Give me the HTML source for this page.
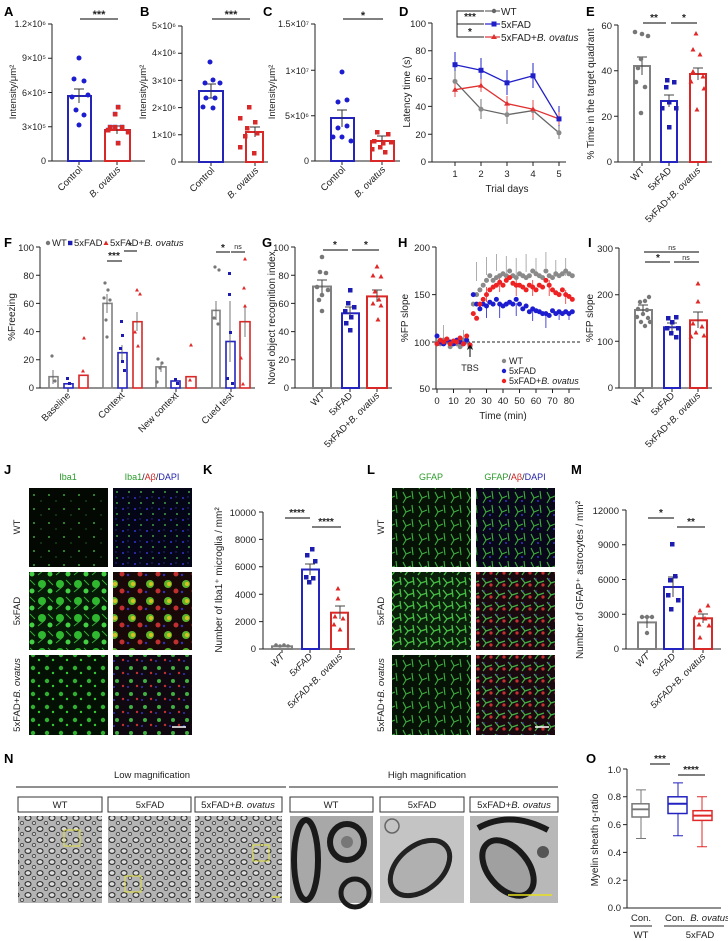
<!DOCTYPE html>
<html><head><meta charset="utf-8"><style>html,body{margin:0;padding:0;background:#fff}svg{display:block}</style></head><body>
<svg width="728" height="941" viewBox="0 0 728 941" font-family="Liberation Sans, Arial, sans-serif" font-size="9.5" fill="#222">
<defs>
<marker id="mG" markerWidth="6" markerHeight="6" refX="3" refY="3" markerUnits="userSpaceOnUse"><circle cx="3" cy="3" r="2.5" fill="#8a8a8a"/></marker>
<marker id="mB" markerWidth="6" markerHeight="6" refX="3" refY="3" markerUnits="userSpaceOnUse"><circle cx="3" cy="3" r="2.5" fill="#1c1cd0"/></marker>
<marker id="mR" markerWidth="6" markerHeight="6" refX="3" refY="3" markerUnits="userSpaceOnUse"><circle cx="3" cy="3" r="2.5" fill="#ee2222"/></marker>
<marker id="dG" markerWidth="6" markerHeight="6" refX="3" refY="3" markerUnits="userSpaceOnUse"><circle cx="3" cy="3" r="2" fill="#666"/></marker>
<marker id="dB" markerWidth="6" markerHeight="6" refX="3" refY="3" markerUnits="userSpaceOnUse"><rect x="0.8" y="0.8" width="4.4" height="4.4" fill="#1c1cb0"/></marker>
<marker id="dR" markerWidth="6" markerHeight="6" refX="3" refY="3" markerUnits="userSpaceOnUse"><path d="M3 0.5 L5.5 5 L0.5 5Z" fill="#e02828"/></marker>
<pattern id="pw1" width="15" height="14" patternUnits="userSpaceOnUse"><rect width="15" height="14" fill="#030803"/><circle cx="4" cy="5" r="0.9" fill="#5c5"/><circle cx="11" cy="11" r="0.6" fill="#393"/></pattern>
<pattern id="pw2" width="12" height="11" patternUnits="userSpaceOnUse"><rect width="12" height="11" fill="#050518"/><circle cx="3" cy="3" r="1" fill="#3434c8"/><circle cx="9" cy="8" r="0.9" fill="#5c5"/><circle cx="8" cy="2" r="0.7" fill="#2a2a9a"/></pattern>
<pattern id="p51" width="18" height="17" patternUnits="userSpaceOnUse"><rect width="18" height="17" fill="#061806"/><circle cx="6" cy="6" r="4" fill="#2fb82f"/><circle cx="14" cy="13" r="2.5" fill="#44d044"/><path d="M2 14 L8 9 M12 2 L17 7" stroke="#3a3" stroke-width="1"/></pattern>
<pattern id="p52" width="18" height="17" patternUnits="userSpaceOnUse"><rect width="18" height="17" fill="#180808"/><circle cx="6" cy="6" r="4" fill="#5ab52a"/><circle cx="7" cy="6" r="2" fill="#d8c020"/><circle cx="14" cy="13" r="2.5" fill="#c03030"/><circle cx="2" cy="14" r="1.2" fill="#3030c0"/></pattern>
<pattern id="pb1" width="14" height="13" patternUnits="userSpaceOnUse"><rect width="14" height="13" fill="#041004"/><circle cx="5" cy="5" r="2.2" fill="#30b030"/><circle cx="11" cy="10" r="1.2" fill="#3c3"/></pattern>
<pattern id="pb2" width="14" height="13" patternUnits="userSpaceOnUse"><rect width="14" height="13" fill="#100810"/><circle cx="5" cy="5" r="2" fill="#40b040"/><circle cx="11" cy="10" r="1.2" fill="#c03030"/><circle cx="2" cy="11" r="1" fill="#3333bb"/></pattern>
<pattern id="pg1" width="16" height="14" patternUnits="userSpaceOnUse"><rect width="16" height="14" fill="#071207"/><path d="M3 2 L6 8 L3 13 M6 8 L11 6 M12 1 L13 9" stroke="#3cb03c" stroke-width="1.1" fill="none"/></pattern>
<pattern id="pg2" width="16" height="14" patternUnits="userSpaceOnUse"><rect width="16" height="14" fill="#08081a"/><path d="M3 2 L6 8 L3 13 M6 8 L11 6 M12 1 L13 9" stroke="#3cb03c" stroke-width="1.1" fill="none"/><circle cx="10" cy="11" r="1" fill="#3535c0"/></pattern>
<pattern id="pg3" width="13" height="12" patternUnits="userSpaceOnUse"><rect width="13" height="12" fill="#0b200b"/><path d="M1 2 L5 7 L2 11 M5 7 L11 5 M10 1 L11 9" stroke="#45c045" stroke-width="1.3" fill="none"/></pattern>
<pattern id="pg4" width="13" height="12" patternUnits="userSpaceOnUse"><rect width="13" height="12" fill="#1a0a10"/><path d="M1 2 L5 7 L2 11 M5 7 L11 5" stroke="#45b045" stroke-width="1.2" fill="none"/><circle cx="10" cy="9" r="1.6" fill="#c83030"/><circle cx="3" cy="3" r="0.8" fill="#4040d0"/></pattern>
<pattern id="pem" width="12" height="11" patternUnits="userSpaceOnUse"><rect width="12" height="11" fill="#b4b4b4"/><ellipse cx="4" cy="4" rx="3" ry="2.4" fill="#ddd" stroke="#222" stroke-width="1"/><ellipse cx="10" cy="9" rx="1.8" ry="1.5" fill="#ccc" stroke="#333" stroke-width="0.8"/></pattern>
</defs>
<rect width="728" height="941" fill="#fff"/>

<g font-weight="bold" font-size="13" fill="#000">
<text x="4" y="16">A</text><text x="140" y="16">B</text><text x="263" y="16">C</text><text x="399" y="16">D</text><text x="586" y="16">E</text>
<text x="4" y="247">F</text><text x="262" y="247">G</text><text x="398" y="247">H</text><text x="588" y="247">I</text>
<text x="4" y="474">J</text><text x="203" y="474">K</text><text x="367" y="474">L</text><text x="571" y="474">M</text>
<text x="4" y="763">N</text><text x="586" y="763">O</text>
</g>

<!-- Panel A -->
<g stroke="#222" stroke-width="1" fill="none">
<path d="M52 24 V161 H145 M48 24 H52 M48 58.25 H52 M48 92.5 H52 M48 126.75 H52 M48 161 H52 M79 161 V165 M117 161 V165"/>
</g>
<g text-anchor="end" font-size="9"><text x="46" y="27">1.2×10⁶</text><text x="46" y="61">9×10⁵</text><text x="46" y="96">6×10⁵</text><text x="46" y="130">3×10⁵</text><text x="46" y="164">0</text></g>
<text transform="rotate(-90 16 92)" x="16" y="92" text-anchor="middle" font-size="9.5">Intensity/μm²</text>
<rect x="68" y="96" width="23" height="65" fill="none" stroke="#2424b8" stroke-width="2"/>
<rect x="105" y="130" width="25" height="31" fill="none" stroke="#d82828" stroke-width="2"/>
<path d="M79 89 V103 M74 89 H84 M117 126 V134 M112 126 H122" stroke="#333"/>
<path d="M79 58 L74 79 L84 81 L72 97 L88 95 L76 110 L84 115 L79 125" stroke="none" fill="none" marker-start="url(#mB)" marker-mid="url(#mB)" marker-end="url(#mB)"/>
<path d="M118 107 L115 114 L110 127 L122 127 L108 130 L128 132 L118 143 L115 127" stroke="none" fill="none" marker-start="url(#dB)" marker-mid="url(#dB)" marker-end="url(#dB)" style="--c:red"/>
<g fill="#d82828"><rect x="116" y="105" width="4.5" height="4.5"/><rect x="113" y="112" width="4.5" height="4.5"/><rect x="108" y="125" width="4.5" height="4.5"/><rect x="120" y="125" width="4.5" height="4.5"/><rect x="106" y="128" width="4.5" height="4.5"/><rect x="126" y="130" width="4.5" height="4.5"/><rect x="116" y="141" width="4.5" height="4.5"/><rect x="113" y="125" width="4.5" height="4.5"/></g>
<path d="M80 19 H118" stroke="#000"/><text x="99" y="18" text-anchor="middle" font-size="11" font-weight="bold">***</text>
<text transform="rotate(-45 83 170)" x="83" y="170" text-anchor="end">Control</text>
<text transform="rotate(-45 121 170)" x="121" y="170" text-anchor="end" font-style="italic">B. ovatus</text>

<!-- Panel B -->
<g stroke="#222" fill="none"><path d="M182 26 V162 H268 M178 26 H182 M178 53.2 H182 M178 80.4 H182 M178 107.6 H182 M178 134.8 H182 M178 162 H182 M211 162 V166 M255 162 V166"/></g>
<g text-anchor="end" font-size="9"><text x="176" y="29">5×10⁶</text><text x="176" y="56">4×10⁶</text><text x="176" y="84">3×10⁶</text><text x="176" y="111">2×10⁶</text><text x="176" y="138">1×10⁶</text><text x="176" y="165">0</text></g>
<text transform="rotate(-90 146 92)" x="146" y="92" text-anchor="middle">Intensity/μm²</text>
<rect x="199" y="91" width="24" height="71" fill="none" stroke="#2424b8" stroke-width="2"/>
<rect x="246" y="132" width="17" height="30" fill="none" stroke="#d82828" stroke-width="2"/>
<path d="M211 84 V98 M206 84 H216 M206 98 H216 M255 127 V137 M250 127 H260" stroke="#333"/>
<path d="M210 62 L213 80 L205 83 L220 83 L206 98 L215 98 L203 107 L213 108" stroke="none" fill="none" marker-start="url(#mB)" marker-mid="url(#mB)" marker-end="url(#mB)"/>
<g fill="#d82828"><rect x="247" y="105" width="4.5" height="4.5"/><rect x="238" y="116" width="4.5" height="4.5"/><rect x="253" y="120" width="4.5" height="4.5"/><rect x="245" y="126" width="4.5" height="4.5"/><rect x="255" y="131" width="4.5" height="4.5"/><rect x="243" y="134" width="4.5" height="4.5"/><rect x="238" y="145" width="4.5" height="4.5"/><rect x="252" y="151" width="4.5" height="4.5"/></g>
<path d="M212 19 H250" stroke="#000"/><text x="231" y="18" text-anchor="middle" font-size="11" font-weight="bold">***</text>
<text transform="rotate(-45 215 171)" x="215" y="171" text-anchor="end">Control</text>
<text transform="rotate(-45 259 171)" x="259" y="171" text-anchor="end" font-style="italic">B. ovatus</text>

<!-- Panel C -->
<g stroke="#222" fill="none"><path d="M315 24 V161 H400 M311 24 H315 M311 70.3 H315 M311 115.7 H315 M311 161 H315 M342 161 V165 M382 161 V165"/></g>
<g text-anchor="end" font-size="9"><text x="309" y="27">1.5×10⁷</text><text x="309" y="74">1×10⁷</text><text x="309" y="119">5×10⁶</text><text x="309" y="164">0</text></g>
<text transform="rotate(-90 275 92)" x="275" y="92" text-anchor="middle">Intensity/μm²</text>
<rect x="331" y="118" width="23" height="43" fill="none" stroke="#2424b8" stroke-width="2"/>
<rect x="371" y="141" width="23" height="20" fill="none" stroke="#d82828" stroke-width="2"/>
<path d="M342 110 V127 M337 110 H347 M382 136 V146 M377 136 H387" stroke="#333"/>
<path d="M342 72 L338 102 L347 100 L338 128 L347 126 L333 137 L342 137 L351 141" stroke="none" fill="none" marker-start="url(#mB)" marker-mid="url(#mB)" marker-end="url(#mB)"/>
<g fill="#d82828"><rect x="375" y="130" width="4.5" height="4.5"/><rect x="386" y="132" width="4.5" height="4.5"/><rect x="372" y="139" width="4.5" height="4.5"/><rect x="381" y="141" width="4.5" height="4.5"/><rect x="389" y="140" width="4.5" height="4.5"/><rect x="370" y="147" width="4.5" height="4.5"/><rect x="383" y="150" width="4.5" height="4.5"/><rect x="378" y="145" width="4.5" height="4.5"/></g>
<path d="M343 19 H383" stroke="#000"/><text x="363" y="19" text-anchor="middle" font-size="11" font-weight="bold">*</text>
<text transform="rotate(-45 346 170)" x="346" y="170" text-anchor="end">Control</text>
<text transform="rotate(-45 386 170)" x="386" y="170" text-anchor="end" font-style="italic">B. ovatus</text>

<!-- Panel D -->
<g stroke="#222" fill="none"><path d="M432 23 V162 H566 M428 23 H432 M428 50.8 H432 M428 78.6 H432 M428 106.4 H432 M428 134.2 H432 M428 162 H432 M455 162 V166 M481 162 V166 M507 162 V166 M533 162 V166 M559 162 V166"/></g>
<g text-anchor="end"><text x="426" y="27">100</text><text x="426" y="54">80</text><text x="426" y="82">60</text><text x="426" y="110">40</text><text x="426" y="138">20</text><text x="426" y="165">0</text></g>
<g text-anchor="middle"><text x="455" y="177">1</text><text x="481" y="177">2</text><text x="507" y="177">3</text><text x="533" y="177">4</text><text x="559" y="177">5</text><text x="507" y="192" font-size="10">Trial days</text></g>
<text transform="rotate(-90 410 92)" x="410" y="92" text-anchor="middle" font-size="10">Latency time (s)</text>
<g stroke-width="1">
<path d="M455 52 V77 M481 58 V83 M507 70 V95 M533 63 V88 M559 106 V131" stroke="#2424c8"/>
<path d="M455 71 V91 M481 99 V119 M507 104 V124 M533 100 V120 M559 126 V139" stroke="#777"/>
<path d="M455 82 V97 M481 79 V92 M507 96 V111 M533 100 V118 M559 112 V125" stroke="#e05050"/>
</g>
<polyline points="455,81.4 481,109.2 507,114.7 533,110.6 559,132.8" fill="none" stroke="#666" stroke-width="1.3" marker-start="url(#mG)" marker-mid="url(#mG)" marker-end="url(#mG)"/>
<polyline points="455,89.7 481,85.6 507,103.6 533,109.2 559,118.9" fill="none" stroke="#e03030" stroke-width="1.3"/>
<g fill="#e03030"><path d="M455 86.7 l3 5 h-6z M481 82.6 l3 5 h-6z M507 100.6 l3 5 h-6z M533 106.2 l3 5 h-6z"/></g>
<polyline points="455,64.7 481,70.3 507,82.8 533,75.8 559,118.9" fill="none" stroke="#2020c8" stroke-width="1.3"/>
<g fill="#2020c8"><rect x="452.5" y="62.2" width="5" height="5"/><rect x="478.5" y="67.8" width="5" height="5"/><rect x="504.5" y="80.3" width="5" height="5"/><rect x="530.5" y="73.3" width="5" height="5"/><rect x="556.5" y="116.4" width="5" height="5"/></g>
<path d="M484 11 H457 V24 H484 M457 24 V37 H484" stroke="#222" fill="none"/>
<text x="470" y="20" text-anchor="middle" font-weight="bold" font-size="10">***</text>
<text x="470" y="35" text-anchor="middle" font-weight="bold" font-size="10">*</text>
<path d="M485 11 H500" stroke="#666" stroke-width="1.2"/><circle cx="494" cy="11" r="2.2" fill="#666"/>
<path d="M485 24 H500" stroke="#2020c8" stroke-width="1.2"/><rect x="491.5" y="21.5" width="5" height="5" fill="#2020c8"/>
<path d="M485 37 H500" stroke="#e03030" stroke-width="1.2"/><path d="M494 34 l3 5 h-6z" fill="#e03030"/>
<g font-size="10"><text x="501" y="15">WT</text><text x="501" y="28">5xFAD</text><text x="501" y="41">5xFAD+<tspan font-style="italic">B. ovatus</tspan></text></g>

<!-- Panel E -->
<g stroke="#222" fill="none"><path d="M618 25 V162 H712 M614 25 H618 M614 70.7 H618 M614 116.3 H618 M614 162 H618 M642 162 V166 M669 162 V166 M698 162 V166"/></g>
<g text-anchor="end"><text x="612" y="29">60</text><text x="612" y="74">40</text><text x="612" y="120">20</text><text x="612" y="165">0</text></g>
<text transform="rotate(-90 594 94)" x="594" y="94" text-anchor="middle" font-size="10">% Time  in the target quadrant</text>
<rect x="634" y="66" width="16" height="96" fill="none" stroke="#808080" stroke-width="2"/>
<rect x="661" y="101" width="16" height="61" fill="none" stroke="#2424c0" stroke-width="2"/>
<rect x="690" y="74" width="16" height="88" fill="none" stroke="#d82828" stroke-width="2"/>
<path d="M642 57 V75 M637 57 H647 M669 95 V107 M664 95 H674 M698 68 V80 M693 68 H703" stroke="#444"/>
<g fill="#777"><circle cx="635" cy="32" r="2.3"/><circle cx="642" cy="34" r="2.3"/><circle cx="648" cy="36" r="2.3"/><circle cx="641" cy="59" r="2.3"/><circle cx="638" cy="68" r="2.3"/><circle cx="636" cy="82" r="2.3"/><circle cx="645" cy="87" r="2.3"/><circle cx="641" cy="113" r="2.3"/></g>
<g fill="#1c1cb0"><rect x="665" y="78" width="4.5" height="4.5"/><rect x="672" y="80" width="4.5" height="4.5"/><rect x="664" y="85" width="4.5" height="4.5"/><rect x="667" y="100" width="4.5" height="4.5"/><rect x="660" y="106" width="4.5" height="4.5"/><rect x="674" y="106" width="4.5" height="4.5"/><rect x="667" y="125" width="4.5" height="4.5"/></g>
<g fill="#e02828"><path d="M696 31 l2.5 4.5 h-5z M693 47 l2.5 4.5 h-5z M700 52 l2.5 4.5 h-5z M693 69 l2.5 4.5 h-5z M703 74 l2.5 4.5 h-5z M691 79 l2.5 4.5 h-5z M704 86 l2.5 4.5 h-5z M697 107 l2.5 4.5 h-5z"/></g>
<path d="M643 23 H666 M671 23 H697" stroke="#000"/>
<text x="654" y="21" text-anchor="middle" font-weight="bold" font-size="10">**</text><text x="684" y="21" text-anchor="middle" font-weight="bold" font-size="10">*</text>
<text transform="rotate(-45 645 171)" x="645" y="171" text-anchor="end">WT</text>
<text transform="rotate(-45 672 171)" x="672" y="171" text-anchor="end">5xFAD</text>
<text transform="rotate(-45 701 171)" x="701" y="171" text-anchor="end">5xFAD+<tspan font-style="italic">B. ovatus</tspan></text>

<!-- Panel F -->
<g font-size="9.5"><circle cx="48" cy="243" r="2.2" fill="#777"/><text x="52" y="246">WT</text><rect x="68" y="240.8" width="4.4" height="4.4" fill="#1c1cb0"/><text x="74" y="246">5xFAD</text><path d="M106 240.5 l2.5 4.5 h-5z" fill="#e02828"/><text x="110" y="246">5xFAD+<tspan font-style="italic">B. ovatus</tspan></text></g>
<g stroke="#222" fill="none"><path d="M40 247 V388 H255 M36 247 H40 M36 275.2 H40 M36 303.4 H40 M36 331.6 H40 M36 359.8 H40 M36 388 H40 M68 388 V392 M122 388 V392 M176 388 V392 M231 388 V392"/></g>
<g text-anchor="end"><text x="34" y="251">100</text><text x="34" y="279">80</text><text x="34" y="307">60</text><text x="34" y="335">40</text><text x="34" y="363">20</text><text x="34" y="391">0</text></g>
<text transform="rotate(-90 15 317)" x="15" y="317" text-anchor="middle" font-size="10">%Freezing</text>
<g fill="none" stroke-width="1.6">
<g stroke="#808080"><rect x="49" y="376.7" width="9" height="11.3"/><rect x="103" y="303.4" width="9" height="84.6"/><rect x="156" y="366.9" width="10" height="21.1"/><rect x="212" y="310.4" width="8" height="77.6"/></g>
<g stroke="#2424c0"><rect x="64" y="383.8" width="9" height="4.2"/><rect x="118" y="352.7" width="9" height="35.3"/><rect x="171" y="381" width="9" height="7"/><rect x="226" y="341.5" width="9" height="46.5"/></g>
<g stroke="#d82828"><rect x="79" y="375.3" width="9" height="12.7"/><rect x="133" y="321.7" width="9" height="66.3"/><rect x="186" y="376.7" width="10" height="11.3"/><rect x="240" y="321.7" width="10" height="66.3"/></g>
</g>
<path d="M53 370 V384 M107 294 V313 M122 345 V360 M137 312 V331 M161 362 V372 M216 301 V320 M230 301 V362 M245 307 V337" stroke="#555" stroke-width="0.8"/>
<g fill="#777"><circle cx="52" cy="356" r="1.6"/><circle cx="55" cy="381" r="1.6"/><circle cx="105" cy="283" r="1.6"/><circle cx="108" cy="290" r="1.6"/><circle cx="104" cy="298" r="1.6"/><circle cx="110" cy="300" r="1.6"/><circle cx="106" cy="320" r="1.6"/><circle cx="107" cy="337" r="1.6"/><circle cx="158" cy="359" r="1.6"/><circle cx="162" cy="363" r="1.6"/><circle cx="160" cy="368" r="1.6"/><circle cx="157" cy="382" r="1.6"/><circle cx="215" cy="267" r="1.6"/><circle cx="219" cy="270" r="1.6"/><circle cx="214" cy="318" r="1.6"/><circle cx="218" cy="324" r="1.6"/></g>
<g fill="#1c1cb0"><rect x="66" y="377" width="3" height="3"/><rect x="68" y="382" width="3" height="3"/><rect x="120" y="320" width="3" height="3"/><rect x="121" y="334" width="3" height="3"/><rect x="119" y="347" width="3" height="3"/><rect x="121" y="360" width="3" height="3"/><rect x="123" y="369" width="3" height="3"/><rect x="174" y="378" width="3" height="3"/><rect x="176" y="382" width="3" height="3"/><rect x="228" y="272" width="3" height="3"/><rect x="228" y="293" width="3" height="3"/><rect x="229" y="331" width="3" height="3"/><rect x="226" y="377" width="3" height="3"/><rect x="231" y="382" width="3" height="3"/></g>
<g fill="#e02828"><path d="M84 336 l2 3.5 h-4z M83 369 l2 3.5 h-4z M137 288 l2 3.5 h-4z M140 292 l2 3.5 h-4z M135 330 l2 3.5 h-4z M138 344 l2 3.5 h-4z M191 343 l2 3.5 h-4z M190 378 l2 3.5 h-4z M245 257 l2 3.5 h-4z M244 286 l2 3.5 h-4z M245 304 l2 3.5 h-4z M241 356 l2 3.5 h-4z M243 382 l2 3.5 h-4z"/></g>
<path d="M107 261 H122 M124 251 H137 M216 252 H230 M231 252 H245" stroke="#000"/>
<g text-anchor="middle" font-weight="bold" font-size="10"><text x="114" y="259">***</text><text x="130" y="249">*</text><text x="223" y="251">*</text></g>
<text x="238" y="249" text-anchor="middle" font-size="7">ns</text>
<g text-anchor="end"><text transform="rotate(-45 71 396)" x="71" y="396">Baseline</text><text transform="rotate(-45 125 396)" x="125" y="396">Context</text><text transform="rotate(-45 179 396)" x="179" y="396">New context</text><text transform="rotate(-45 234 396)" x="234" y="396">Cued test</text></g>

<!-- Panel G -->
<g stroke="#222" fill="none"><path d="M295 247 V388 H392 M291 247 H295 M291 275.2 H295 M291 303.4 H295 M291 331.6 H295 M291 359.8 H295 M291 388 H295 M322 388 V392 M350 388 V392 M377 388 V392"/></g>
<g text-anchor="end"><text x="289" y="251">100</text><text x="289" y="279">80</text><text x="289" y="307">60</text><text x="289" y="335">40</text><text x="289" y="363">20</text><text x="289" y="391">0</text></g>
<text transform="rotate(-90 275 318)" x="275" y="318" text-anchor="middle" font-size="10">Novel object recognition index</text>
<rect x="313" y="286.5" width="18" height="101.5" fill="none" stroke="#808080" stroke-width="2"/>
<rect x="342" y="313.3" width="17" height="74.7" fill="none" stroke="#2424c0" stroke-width="2"/>
<rect x="367" y="296.4" width="20" height="91.6" fill="none" stroke="#d82828" stroke-width="2"/>
<path d="M322 280 V293 M317 280 H327 M350 307 V319 M345 307 H355 M377 290 V302 M372 290 H382" stroke="#444"/>
<g fill="#777"><circle cx="322" cy="257" r="2.3"/><circle cx="320" cy="272" r="2.3"/><circle cx="326" cy="273" r="2.3"/><circle cx="317" cy="287" r="2.3"/><circle cx="328" cy="290" r="2.3"/><circle cx="322" cy="295" r="2.3"/><circle cx="319" cy="300" r="2.3"/><circle cx="322" cy="311" r="2.3"/></g>
<g fill="#1c1cb0"><rect x="348" y="288" width="4.5" height="4.5"/><rect x="346" y="301" width="4.5" height="4.5"/><rect x="352" y="305" width="4.5" height="4.5"/><rect x="343" y="309" width="4.5" height="4.5"/><rect x="349" y="315" width="4.5" height="4.5"/><rect x="344" y="321" width="4.5" height="4.5"/><rect x="348" y="328" width="4.5" height="4.5"/></g>
<g fill="#e02828"><path d="M377 264 l2.5 4.5 h-5z M373 273 l2.5 4.5 h-5z M381 274 l2.5 4.5 h-5z M375 289 l2.5 4.5 h-5z M379 297 l2.5 4.5 h-5z M373 301 l2.5 4.5 h-5z M381 303 l2.5 4.5 h-5z M378 317 l2.5 4.5 h-5z"/></g>
<path d="M323 250 H348 M352 250 H379" stroke="#000"/>
<g text-anchor="middle" font-weight="bold" font-size="10"><text x="335" y="248">*</text><text x="366" y="248">*</text></g>
<g text-anchor="end"><text transform="rotate(-45 325 396)" x="325" y="396">WT</text><text transform="rotate(-45 353 396)" x="353" y="396">5xFAD</text><text transform="rotate(-45 380 396)" x="380" y="396">5xFAD+<tspan font-style="italic">B. ovatus</tspan></text></g>

<!-- Panel H -->
<g stroke="#222" fill="none"><path d="M436 247 V389 H580 M432 247 H436 M432 294.6 H436 M432 342 H436 M432 389 H436"/>
<path d="M437 389 v4 M453.5 389 v4 M470 389 v4 M486.5 389 v4 M503 389 v4 M519.5 389 v4 M536 389 v4 M552.5 389 v4 M569 389 v4"/></g>
<g text-anchor="end"><text x="430" y="251">200</text><text x="430" y="298">150</text><text x="430" y="346">100</text><text x="430" y="392">50</text></g>
<g text-anchor="middle"><text x="437" y="404">0</text><text x="453.5" y="404">10</text><text x="470" y="404">20</text><text x="486.5" y="404">30</text><text x="503" y="404">40</text><text x="519.5" y="404">50</text><text x="536" y="404">60</text><text x="552.5" y="404">70</text><text x="569" y="404">80</text><text x="503" y="419" font-size="10">Time (min)</text></g>
<text transform="rotate(-90 408 318)" x="408" y="318" text-anchor="middle" font-size="10">%FP slope</text>
<path d="M437 342 H580" stroke="#222" stroke-dasharray="3,2"/>
<g stroke="#999" stroke-width="0.8"><path d="M476.6 281 V262 M486.5 275 V257 M496.4 271 V254 M506.3 273 V256 M516.2 276 V258 M526.1 272 V254 M536 276 V258 M545.9 268 V252 M555.8 277 V260 M565.7 276 V258 M443.6 345 V325 M463.4 345 V330"/></g>
<g stroke="#2020c8" stroke-width="0.8"><path d="M486.5 306 V318 M499.7 306 V318 M516.2 303 V316 M532.7 310 V321 M545.9 315 V328 M559.1 312 V320 M569 313 V320"/></g>
<g stroke="#ee3030" stroke-width="0.8"><path d="M486.5 287 V302 M499.7 276 V292 M516.2 280 V296 M532.7 280 V296 M549.2 280 V296 M565.7 290 V304"/></g>
<polyline fill="none" stroke="transparent" marker-start="url(#mG)" marker-mid="url(#mG)" marker-end="url(#mG)" points="437,342 440.3,343.9 443.6,340.1 446.9,342 450.2,346.7 453.5,342 456.8,343.9 460.1,346.7 463.4,340.1 466.7,342 470,346.7 473.3,304.1 476.6,294.6 479.9,289.9 483.2,285.2 486.5,280.4 489.8,275.7 493.1,280.4 496.4,277.6 499.7,275.7 503,273.8 506.3,275.7 509.6,271 512.9,275.7 516.2,277.6 519.5,273.8 522.8,275.7 526.1,277.6 529.4,275.7 532.7,271 536,273.8 539.3,275.7 542.6,277.6 545.9,271 549.2,275.7 552.5,277.6 555.8,273.8 559.1,275.7 562.4,273.8 565.7,271 569,273.8 572.3,275.7"/>
<polyline fill="none" stroke="transparent" marker-start="url(#mB)" marker-mid="url(#mB)" marker-end="url(#mB)" points="437,336 440.3,342 443.6,343.9 446.9,340.1 450.2,342 453.5,343.9 456.8,340.1 460.1,342 463.4,343.9 466.7,340.1 470,345 473.3,294.6 476.6,304.1 479.9,308.9 483.2,304.1 486.5,306 489.8,302.2 493.1,304.1 496.4,299.4 499.7,304.1 503,306 506.3,304.1 509.6,302.2 512.9,304.1 516.2,299.4 519.5,304.1 522.8,308.9 526.1,306 529.4,311.7 532.7,308.9 536,310.7 539.3,311.7 542.6,313.6 545.9,313.6 549.2,315.5 552.5,310.7 555.8,313.6 559.1,311.7 562.4,313.6 565.7,311.7 569,313.6 572.3,311.7"/>
<polyline fill="none" stroke="transparent" marker-start="url(#mR)" marker-mid="url(#mR)" marker-end="url(#mR)" points="437,343.9 440.3,340.1 443.6,342 446.9,339 450.2,343.9 453.5,341 456.8,342 460.1,338 463.4,343.9 466.7,336 470,345 473.3,313.6 476.6,318.3 479.9,304.1 483.2,299.4 486.5,294.6 489.8,289.9 493.1,287.1 496.4,285.2 499.7,282.3 503,285.2 506.3,280.4 509.6,277.6 512.9,283.3 516.2,285.2 519.5,285.2 522.8,287.1 526.1,289.9 529.4,285.2 532.7,287.1 536,289.9 539.3,285.2 542.6,287.1 545.9,280.4 549.2,285.2 552.5,289.9 555.8,292.8 559.1,294.6 562.4,289.9 565.7,294.6 569,296.5 572.3,299.4"/>
<path d="M470 357 V346 M467.5 349.5 L470 345.5 L472.5 349.5" stroke="#000" fill="none"/>
<text x="470" y="371" text-anchor="middle" font-size="9">TBS</text>
<g font-size="9"><circle cx="504" cy="361" r="2.2" fill="#888"/><text x="509" y="364">WT</text><circle cx="504" cy="371" r="2.2" fill="#1c1cd0"/><text x="509" y="374">5xFAD</text><circle cx="504" cy="381" r="2.2" fill="#ee2222"/><text x="509" y="384">5xFAD+<tspan font-style="italic">B. ovatus</tspan></text></g>

<!-- Panel I -->
<g stroke="#222" fill="none"><path d="M619 248 V388 H712 M615 248 H619 M615 294.7 H619 M615 341.3 H619 M615 388 H619 M643 388 V392 M672 388 V392 M698 388 V392"/></g>
<g text-anchor="end"><text x="613" y="252">300</text><text x="613" y="298">200</text><text x="613" y="345">100</text><text x="613" y="391">0</text></g>
<text transform="rotate(-90 593 318)" x="593" y="318" text-anchor="middle" font-size="10">%FP slope</text>
<rect x="635" y="310" width="17" height="78" fill="none" stroke="#808080" stroke-width="2"/>
<rect x="664" y="327.3" width="16" height="60.7" fill="none" stroke="#2424c0" stroke-width="2"/>
<rect x="690" y="320.3" width="17" height="67.7" fill="none" stroke="#d82828" stroke-width="2"/>
<path d="M643 305 V315 M638 305 H648 M672 323 V332 M667 323 H677 M698 312 V328 M693 312 H703" stroke="#444"/>
<g fill="#777"><circle cx="640" cy="302" r="2.2"/><circle cx="645" cy="301" r="2.2"/><circle cx="649" cy="297" r="2.2"/><circle cx="638" cy="309" r="2.2"/><circle cx="647" cy="310" r="2.2"/><circle cx="643" cy="314" r="2.2"/><circle cx="637" cy="317" r="2.2"/><circle cx="648" cy="318" r="2.2"/><circle cx="641" cy="322" r="2.2"/><circle cx="645" cy="326" r="2.2"/><circle cx="650" cy="322" r="2.2"/></g>
<g fill="#1c1cb0"><rect x="666" y="316" width="4.5" height="4.5"/><rect x="674" y="315" width="4.5" height="4.5"/><rect x="670" y="320" width="4.5" height="4.5"/><rect x="665" y="326" width="4.5" height="4.5"/><rect x="676" y="326" width="4.5" height="4.5"/><rect x="669" y="331" width="4.5" height="4.5"/><rect x="674" y="335" width="4.5" height="4.5"/></g>
<g fill="#e02828"><path d="M698 281 l2.5 4.5 h-5z M698 299 l2.5 4.5 h-5z M693 321 l2.5 4.5 h-5z M702 324 l2.5 4.5 h-5z M696 330 l2.5 4.5 h-5z M704 333 l2.5 4.5 h-5z M691 334 l2.5 4.5 h-5z"/></g>
<path d="M644 252 H699 M645 262 H670 M674 262 H699" stroke="#000"/>
<g text-anchor="middle" font-size="7"><text x="672" y="250">ns</text><text x="686" y="260">ns</text></g>
<text x="658" y="261" text-anchor="middle" font-weight="bold" font-size="10">*</text>
<g text-anchor="end"><text transform="rotate(-45 646 396)" x="646" y="396">WT</text><text transform="rotate(-45 675 396)" x="675" y="396">5xFAD</text><text transform="rotate(-45 701 396)" x="701" y="396">5xFAD+<tspan font-style="italic">B. ovatus</tspan></text></g>

<!-- Panel J images -->
<text x="68" y="480" text-anchor="middle" fill="#2a9a2a" font-size="9">Iba1</text>
<text x="152" y="480" text-anchor="middle" font-size="9"><tspan fill="#2a9a2a">Iba1</tspan>/<tspan fill="#cc2222">Aβ</tspan>/<tspan fill="#2222aa">DAPI</tspan></text>
<rect x="29" y="488" width="79" height="79" fill="url(#pw1)"/><rect x="113" y="488" width="79" height="79" fill="url(#pw2)"/>
<rect x="29" y="572" width="79" height="78" fill="url(#p51)"/><rect x="113" y="572" width="79" height="78" fill="url(#p52)"/>
<rect x="29" y="655" width="79" height="80" fill="url(#pb1)"/><rect x="113" y="655" width="79" height="80" fill="url(#pb2)"/>
<path d="M172 727 H186" stroke="#fff" stroke-width="1.5"/>
<g text-anchor="middle" font-size="9.5"><text transform="rotate(-90 20 527)" x="20" y="527">WT</text><text transform="rotate(-90 20 611)" x="20" y="611">5xFAD</text><text transform="rotate(-90 20 695)" x="20" y="695">5xFAD+<tspan font-style="italic">B. ovatus</tspan></text></g>

<!-- Panel K -->
<g stroke="#222" fill="none"><path d="M263 512 V649 H355 M259 512 H263 M259 539.4 H263 M259 566.8 H263 M259 594.2 H263 M259 621.6 H263 M259 649 H263 M282 649 V653 M310 649 V653 M340 649 V653"/></g>
<g text-anchor="end"><text x="256" y="516">10000</text><text x="256" y="543">8000</text><text x="256" y="570">6000</text><text x="256" y="598">4000</text><text x="256" y="625">2000</text><text x="256" y="652">0</text></g>
<text transform="rotate(-90 222 580)" x="222" y="580" text-anchor="middle" font-size="10">Number of Iba1⁺ microglia / mm²</text>
<rect x="272" y="646.3" width="20" height="2.7" fill="none" stroke="#808080" stroke-width="2"/>
<rect x="302" y="569.5" width="17" height="79.5" fill="none" stroke="#2424c0" stroke-width="2"/>
<rect x="331" y="612.7" width="17" height="36.3" fill="none" stroke="#d82828" stroke-width="2"/>
<g fill="#777"><circle cx="276" cy="645" r="1.8"/><circle cx="280" cy="646" r="1.8"/><circle cx="284" cy="645" r="1.8"/><circle cx="288" cy="646" r="1.8"/></g>
<path d="M310 564 V575 M305 564 H315 M340 606 V619 M335 606 H345" stroke="#444"/>
<g fill="#1c1cb0"><rect x="310" y="547" width="4.5" height="4.5"/><rect x="305" y="553" width="4.5" height="4.5"/><rect x="313" y="559" width="4.5" height="4.5"/><rect x="304" y="575" width="4.5" height="4.5"/><rect x="311" y="576" width="4.5" height="4.5"/><rect x="307" y="580" width="4.5" height="4.5"/></g>
<g fill="#e02828"><path d="M338 586 l2.5 4.5 h-5z M338 596 l2.5 4.5 h-5z M335 614 l2.5 4.5 h-5z M343 616 l2.5 4.5 h-5z M334 622 l2.5 4.5 h-5z M340 627 l2.5 4.5 h-5z"/></g>
<path d="M285 518 H310 M312 527 H341" stroke="#000"/>
<g text-anchor="middle" font-weight="bold" font-size="10"><text x="297" y="516">****</text><text x="326" y="525">****</text></g>
<g text-anchor="end"><text transform="rotate(-45 285 657)" x="285" y="657" font-style="italic">WT</text><text transform="rotate(-45 313 657)" x="313" y="657" font-style="italic">5xFAD</text><text transform="rotate(-45 343 657)" x="343" y="657" font-style="italic">5xFAD+B. ovatus</text></g>

<!-- Panel L images -->
<text x="431" y="480" text-anchor="middle" fill="#2a9a2a" font-size="9">GFAP</text>
<text x="515" y="480" text-anchor="middle" font-size="9"><tspan fill="#2a9a2a">GFAP</tspan>/<tspan fill="#cc2222">Aβ</tspan>/<tspan fill="#2222aa">DAPI</tspan></text>
<rect x="392" y="488" width="79" height="79" fill="url(#pg1)"/><rect x="476" y="488" width="79" height="79" fill="url(#pg2)"/>
<rect x="392" y="572" width="79" height="78" fill="url(#pg3)"/><rect x="476" y="572" width="79" height="78" fill="url(#pg4)"/>
<rect x="392" y="655" width="79" height="80" fill="url(#pg1)"/><rect x="476" y="655" width="79" height="80" fill="url(#pg4)"/>
<path d="M535 727 H549" stroke="#fff" stroke-width="1.5"/>
<g text-anchor="middle" font-size="9.5"><text transform="rotate(-90 384 527)" x="384" y="527">WT</text><text transform="rotate(-90 384 611)" x="384" y="611">5xFAD</text><text transform="rotate(-90 384 695)" x="384" y="695">5xFAD+<tspan font-style="italic">B. ovatus</tspan></text></g>

<!-- Panel M -->
<g stroke="#222" fill="none"><path d="M626 510 V649 H721 M622 510 H626 M622 544.75 H626 M622 579.5 H626 M622 614.25 H626 M622 649 H626 M647 649 V653 M673 649 V653 M703 649 V653"/></g>
<g text-anchor="end"><text x="619" y="514">12000</text><text x="619" y="548">9000</text><text x="619" y="583">6000</text><text x="619" y="618">3000</text><text x="619" y="652">0</text></g>
<text transform="rotate(-90 583 580)" x="583" y="580" text-anchor="middle" font-size="10">Number of GFAP⁺ astrocytes / mm²</text>
<rect x="638" y="622.4" width="18" height="26.6" fill="none" stroke="#808080" stroke-width="2"/>
<rect x="664" y="587" width="19" height="62" fill="none" stroke="#2424c0" stroke-width="2"/>
<rect x="694" y="618.3" width="18" height="30.7" fill="none" stroke="#d82828" stroke-width="2"/>
<path d="M647 617 V628 M642 617 H652 M673 577 V597 M668 577 H678 M703 614 V623 M698 614 H708" stroke="#444"/>
<g fill="#777"><circle cx="642" cy="617" r="2.2"/><circle cx="647" cy="617" r="2.2"/><circle cx="652" cy="617" r="2.2"/><circle cx="647" cy="633" r="2.2"/></g>
<g fill="#1c1cb0"><rect x="670" y="542" width="4.5" height="4.5"/><rect x="673" y="574" width="4.5" height="4.5"/><rect x="668" y="578" width="4.5" height="4.5"/><rect x="666" y="593" width="4.5" height="4.5"/><rect x="676" y="598" width="4.5" height="4.5"/><rect x="669" y="607" width="4.5" height="4.5"/></g>
<g fill="#e02828"><path d="M708 603 l2.5 4.5 h-5z M700 608 l2.5 4.5 h-5z M695 615 l2.5 4.5 h-5z M705 616 l2.5 4.5 h-5z M699 622 l2.5 4.5 h-5z M709 623 l2.5 4.5 h-5z M700 635 l2.5 4.5 h-5z"/></g>
<path d="M648 518 H674 M677 527 H705" stroke="#000"/>
<g text-anchor="middle" font-weight="bold" font-size="10"><text x="661" y="516">*</text><text x="691" y="525">**</text></g>
<g text-anchor="end"><text transform="rotate(-45 650 657)" x="650" y="657" font-style="italic">WT</text><text transform="rotate(-45 676 657)" x="676" y="657" font-style="italic">5xFAD</text><text transform="rotate(-45 706 657)" x="706" y="657" font-style="italic">5xFAD+B. ovatus</text></g>

<!-- Panel N -->
<text x="152" y="778" text-anchor="middle" font-size="9.5">Low magnification</text>
<text x="427" y="778" text-anchor="middle" font-size="9.5">High magnification</text>
<path d="M16 787 H286 M289 787 H558" stroke="#222"/>
<g fill="#fff" stroke="#333" stroke-width="1"><rect x="18" y="797" width="84" height="15"/><rect x="108" y="797" width="83" height="15"/><rect x="195" y="797" width="87" height="15"/><rect x="290" y="797" width="83" height="15"/><rect x="380" y="797" width="84" height="15"/><rect x="470" y="797" width="88" height="15"/></g>
<g text-anchor="middle" font-size="9.5"><text x="60" y="808">WT</text><text x="150" y="808">5xFAD</text><text x="238" y="808">5xFAD+<tspan font-style="italic">B. ovatus</tspan></text><text x="331" y="808">WT</text><text x="422" y="808">5xFAD</text><text x="514" y="808">5xFAD+<tspan font-style="italic">B. ovatus</tspan></text></g>
<rect x="18" y="816" width="84" height="87" fill="url(#pem)"/>
<rect x="108" y="816" width="83" height="87" fill="url(#pem)"/>
<rect x="195" y="816" width="87" height="87" fill="url(#pem)"/>
<g fill="none" stroke="#e0e040" stroke-width="1"><rect x="64" y="830" width="16" height="16"/><rect x="125" y="876" width="16" height="16"/><rect x="253" y="845" width="16" height="16"/></g>
<path d="M272 897 H280" stroke="#e0e040" stroke-width="1.5"/>
<rect x="290" y="816" width="83" height="87" fill="#a8a8a8"/>
<g fill="none" stroke="#1a1a1a"><ellipse cx="306" cy="860" rx="12" ry="40" stroke-width="6"/><ellipse cx="347" cy="842" rx="17" ry="18" stroke-width="6"/><ellipse cx="355" cy="893" rx="14" ry="14" stroke-width="5"/></g>
<circle cx="347" cy="842" r="6" fill="#777"/>
<rect x="380" y="816" width="84" height="87" fill="#c4c4c4"/>
<ellipse cx="420" cy="868" rx="34" ry="22" transform="rotate(-40 420 868)" fill="#b0b0b0" stroke="#222" stroke-width="5"/>
<circle cx="392" cy="826" r="7" fill="none" stroke="#666" stroke-width="1.5"/>
<rect x="470" y="816" width="88" height="87" fill="#b8b8b8"/>
<ellipse cx="508" cy="868" rx="32" ry="20" transform="rotate(50 508 868)" fill="#a0a0a0" stroke="#1a1a1a" stroke-width="6"/>
<path d="M478 828 Q510 810 548 830" stroke="#1a1a1a" stroke-width="6" fill="none"/>
<circle cx="543" cy="852" r="6" fill="#555"/>
<path d="M508 895 H552" stroke="#e8e020" stroke-width="1.5"/>

<!-- Panel O -->
<g stroke="#222" fill="none"><path d="M627 769 V908 H721 M623 769 H627 M623 796.8 H627 M623 824.6 H627 M623 852.4 H627 M623 880.2 H627 M623 908 H627"/></g>
<g text-anchor="end"><text x="621" y="773">1.0</text><text x="621" y="800">0.8</text><text x="621" y="828">0.6</text><text x="621" y="856">0.4</text><text x="621" y="884">0.2</text><text x="621" y="911">0.0</text></g>
<text transform="rotate(-90 598 840)" x="598" y="840" text-anchor="middle" font-size="10">Myelin sheath g-ratio</text>
<g fill="none" stroke-width="1">
<g stroke="#777"><path d="M641 789.9 V803.8 M641 817 V838.5 M636 789.9 H646 M636 838.5 H646"/><rect x="632" y="803.8" width="17" height="13.2" stroke-width="1.5"/><path d="M632 809.3 H649" stroke-width="1.8"/></g>
<g stroke="#2222c0"><path d="M678 782.9 V796.8 M678 813.5 V835.7 M673 782.9 H683 M673 835.7 H683"/><rect x="668" y="796.8" width="19" height="16.7" stroke-width="1.5"/><path d="M668 803.8 H687" stroke-width="2"/></g>
<g stroke="#e02828"><path d="M702 796.8 V810.7 M702 820.4 V846.8 M697 796.8 H707 M697 846.8 H707"/><rect x="693" y="810.7" width="19" height="9.7" stroke-width="1.5"/><path d="M693 815.6 H712" stroke-width="2"/></g>
</g>
<path d="M650 764 H670 M678 775 H705" stroke="#000"/>
<g text-anchor="middle" font-weight="bold" font-size="10"><text x="660" y="762">***</text><text x="691" y="773">****</text></g>
<g text-anchor="middle" font-size="9.5"><text x="641" y="921">Con.</text><text x="675" y="921">Con.</text><text x="710" y="921" font-style="italic">B. ovatus</text><text x="641" y="938">WT</text><text x="700" y="938">5xFAD</text></g>
<path d="M630 926 H652 M664 926 H724" stroke="#222"/>
</svg>
</body></html>
